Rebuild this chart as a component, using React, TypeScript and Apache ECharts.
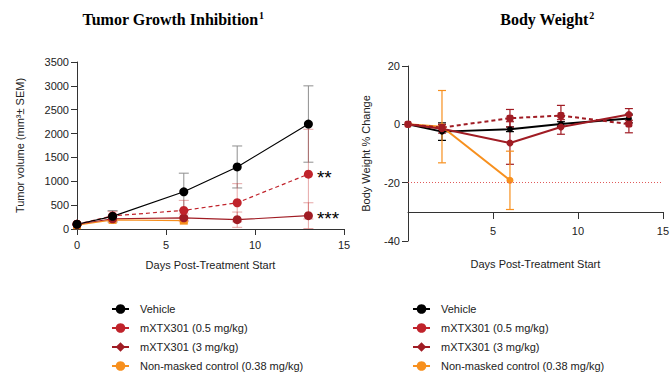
import React, { useEffect, useRef } from "react";
import * as echarts from "echarts";

const days = [0, 2, 6, 9, 13];
const daysNM = [0, 2, 6];

const legendNames = [
  "Vehicle",
  "mXTX301 (0.5 mg/kg)",
  "mXTX301 (3 mg/kg)",
  "Non-masked control (0.38 mg/kg)",
];

// Tumor volume (mm3 ± SEM)
const tgiVehicle = [100, 265, 780, 1300, 2200];
const tgiVehicleErr = [0, 120, 390, 440, 800];
const tgiLow = [100, 275, 390, 550, 1150];
const tgiLowErr = [0, 90, 210, 400, 940];
const tgiHigh = [100, 215, 235, 195, 280];
const tgiHighErr = [0, 60, 80, 160, 270];
const tgiNM = [80, 190, 175];
const tgiNMErr = [0, 30, 40];
const sigLabels = ["**", "***"];

// Body weight % change
const bwVehicle = [0, -2.5, -1.7, 0.1, 2];
const bwVehicleErr = [0, 3, 0.8, 0.8, 1.5];
const bwLow = [0, -1.1, 2.1, 3, 0.1];
const bwLowErr = [0, 1, 3, 3.5, 3];
const bwHigh = [0, -1.5, -6.4, -0.9, 3.4];
const bwHighErr = [0, 1.5, 7.3, 2.5, 2];
const bwNM = [0, -0.8, -19.2];
const bwNMErr = [0, 12.4, 10];
const bwThreshold = -20;

const C_BLACK = "#000000";
const C_RED1 = "#c0232b";
const C_RED2 = "#a01c24";
const C_ORANGE = "#f7901e";

const SANS = "Liberation Sans, Arial, sans-serif";
const SERIF = "Liberation Serif, Times New Roman, serif";

function pts(xs: number[], ys: number[]) {
  return xs.map((x, i) => [x, ys[i]]);
}
function errData(xs: number[], ys: number[], es: number[]) {
  const out: number[][] = [];
  xs.forEach((x, i) => {
    if (es[i] > 0) out.push([x, ys[i] - es[i], ys[i] + es[i]]);
  });
  return out;
}

function errSeries(
  idx: number,
  xs: number[],
  ys: number[],
  es: number[],
  color: string,
  cap: number,
  width: number
) {
  return {
    type: "custom",
    xAxisIndex: idx,
    yAxisIndex: idx,
    z: 1,
    silent: true,
    encode: { x: 0, y: [1, 2] },
    data: errData(xs, ys, es),
    renderItem: (params: any, api: any) => {
      const x = api.value(0);
      const lo = api.coord([x, api.value(1)]);
      const hi = api.coord([x, api.value(2)]);
      const style = { stroke: color, lineWidth: width };
      return {
        type: "group",
        children: [
          { type: "line", shape: { x1: lo[0], y1: lo[1], x2: hi[0], y2: hi[1] }, style },
          { type: "line", shape: { x1: hi[0] - cap / 2, y1: hi[1], x2: hi[0] + cap / 2, y2: hi[1] }, style },
          { type: "line", shape: { x1: lo[0] - cap / 2, y1: lo[1], x2: lo[0] + cap / 2, y2: lo[1] }, style },
        ],
      };
    },
  };
}

function lineSeries(
  name: string,
  idx: number,
  data: any[],
  color: string,
  width: number,
  dashed: boolean,
  symbol: string,
  size: number
) {
  return {
    type: "line",
    name,
    xAxisIndex: idx,
    yAxisIndex: idx,
    z: 3,
    data,
    symbol,
    symbolSize: size,
    showSymbol: true,
    itemStyle: { color },
    lineStyle: { color, width, type: dashed ? [4, 3] : "solid" },
  };
}

function measure(text: string, font: string) {
  const c = document.createElement("canvas").getContext("2d");
  if (!c) return text.length * 8;
  c.font = font;
  return c.measureText(text).width;
}

function titleGraphics(main: string, sup: string, cx: number, cy: number) {
  const mainFont = `bold 16px ${SERIF}`;
  const supFont = `bold 10px ${SERIF}`;
  const wMain = measure(main, mainFont);
  const wSup = measure(sup, supFont);
  const x0 = cx - (wMain + wSup) / 2;
  return [
    {
      type: "text",
      x: x0,
      y: cy,
      style: { text: main, font: mainFont, fill: "#000", align: "left", verticalAlign: "middle" },
    },
    {
      type: "text",
      x: x0 + wMain + 0.5,
      y: cy - 4,
      style: { text: sup, font: supFont, fill: "#000", align: "left", verticalAlign: "middle" },
    },
  ];
}

export default function App() {
  const ref = useRef<HTMLDivElement>(null);
  useEffect(() => {
    if (!ref.current) return;
    const chart = echarts.init(ref.current, undefined, { renderer: "svg" });

    const sigLabel = (t: string) => ({
      show: true,
      formatter: t,
      position: "right",
      distance: 4,
      fontSize: 19,
      color: "#000",
      fontFamily: SANS,
      offset: [0, 3],
    });
    const lowLast = pts(days, tgiLow) as any[];
    lowLast[lowLast.length - 1] = { value: lowLast[lowLast.length - 1], label: sigLabel(sigLabels[0]) };
    const highLast = pts(days, tgiHigh) as any[];
    highLast[highLast.length - 1] = { value: highLast[highLast.length - 1], label: sigLabel(sigLabels[1]) };

    const axisCommon = {
      axisLine: { show: true, onZero: false, lineStyle: { color: "#333", width: 1 } },
      axisTick: { show: true, inside: false, length: 6, lineStyle: { color: "#333" } },
      axisLabel: { color: "#222", fontSize: 11, fontFamily: SANS, margin: 10, formatter: (v: number) => String(v) },
      splitLine: { show: false },
      nameTextStyle: { color: "#222", fontSize: 11, fontFamily: SANS },
    };

    const legendCommon = {
      orient: "vertical",
      top: 302,
      padding: 0,
      itemWidth: 17,
      itemHeight: 12,
      itemGap: 5,
      data: legendNames,
      textStyle: { fontSize: 11, fontFamily: SANS, color: "#222", lineHeight: 14, padding: [0, 0, 0, 6] },
      selectedMode: false,
    };

    const option: any = {
      animation: false,
      backgroundColor: "#fff",
      graphic: [
        ...titleGraphics("Tumor Growth Inhibition", "1", 173, 19),
        ...titleGraphics("Body Weight", "2", 547, 19),
      ],
      legend: [
        { ...legendCommon, left: 111 },
        { ...legendCommon, left: 412 },
      ],
      grid: [
        { left: 77, top: 62, width: 267, height: 167 },
        { left: 408, top: 66, width: 262, height: 175 },
      ],
      xAxis: [
        {
          ...axisCommon,
          gridIndex: 0,
          type: "value",
          min: 0,
          max: 15,
          interval: 5,
          name: "Days Post-Treatment Start",
          nameLocation: "middle",
          nameGap: 30,
        },
        {
          ...axisCommon,
          gridIndex: 1,
          type: "value",
          min: 0,
          max: 15,
          interval: 5,
          offset: -29,
          axisTick: { ...axisCommon.axisTick, length: 7 },
          axisLabel: { ...axisCommon.axisLabel, margin: 13, showMinLabel: false },
          name: "Days Post-Treatment Start",
          nameLocation: "middle",
          nameGap: 46,
        },
      ],
      yAxis: [
        {
          ...axisCommon,
          gridIndex: 0,
          type: "value",
          min: 0,
          max: 3500,
          interval: 500,
          axisLabel: { ...axisCommon.axisLabel, margin: 8 },
          name: "Tumor volume (mm³± SEM)",
          nameLocation: "middle",
          nameGap: 52,
        },
        {
          ...axisCommon,
          gridIndex: 1,
          type: "value",
          min: -40,
          max: 20,
          interval: 20,
          axisLabel: { ...axisCommon.axisLabel, margin: 8 },
          name: "Body Weight % Change",
          nameLocation: "middle",
          nameGap: 37,
        },
      ],
      series: [
        // legend-only series
        lineSeries(legendNames[0], 0, [], C_BLACK, 2, false, "circle", 8),
        lineSeries(legendNames[1], 0, [], C_RED1, 2, false, "circle", 8),
        lineSeries(legendNames[2], 0, [], C_RED2, 2, false, "diamond", 10),
        lineSeries(legendNames[3], 0, [], C_ORANGE, 2, false, "circle", 8),

        // Tumor growth error bars
        errSeries(0, days, tgiVehicle, tgiVehicleErr, "#8f8f8f", 10, 1),
        errSeries(0, days, tgiLow, tgiLowErr, "rgba(200,60,60,0.45)", 10, 1),
        errSeries(0, days, tgiHigh, tgiHighErr, "rgba(200,60,60,0.45)", 10, 1),
        errSeries(0, daysNM, tgiNM, tgiNMErr, "rgba(247,144,30,0.5)", 8, 1),
        // Tumor growth lines
        lineSeries("tgi-nm", 0, pts(daysNM, tgiNM), C_ORANGE, 1.2, false, "rect", 8),
        lineSeries("tgi-high", 0, highLast, C_RED2, 1.2, false, "circle", 9),
        lineSeries("tgi-low", 0, lowLast, C_RED1, 1.2, true, "circle", 9),
        lineSeries("tgi-veh", 0, pts(days, tgiVehicle), C_BLACK, 1.2, false, "circle", 9),

        // Body weight error bars
        errSeries(1, days, bwVehicle, bwVehicleErr, C_BLACK, 8, 1.2),
        errSeries(1, days, bwLow, bwLowErr, C_RED2, 8, 1.2),
        errSeries(1, days, bwHigh, bwHighErr, C_RED2, 8, 1.2),
        errSeries(1, daysNM, bwNM, bwNMErr, C_ORANGE, 8, 1.2),
        // Body weight lines
        {
          ...lineSeries("bw-veh", 1, pts(days, bwVehicle), C_BLACK, 2, false, "circle", 6),
          markLine: {
            silent: true,
            symbol: "none",
            label: { show: false },
            lineStyle: { color: "#e05a5a", width: 1, type: [1, 2] },
            data: [{ yAxis: bwThreshold }],
          },
        },
        lineSeries("bw-nm", 1, pts(daysNM, bwNM), C_ORANGE, 2, false, "circle", 7),
        lineSeries("bw-high", 1, pts(days, bwHigh), C_RED2, 2, false, "circle", 7),
        lineSeries("bw-low", 1, pts(days, bwLow), C_RED2, 2, true, "roundRect", 7),
      ],
    };
    chart.setOption(option);
    return () => chart.dispose();
  }, []);
  return <div ref={ref} style={{ width: 672, height: 374, position: "absolute", left: 0, top: 0 }} />;
}
